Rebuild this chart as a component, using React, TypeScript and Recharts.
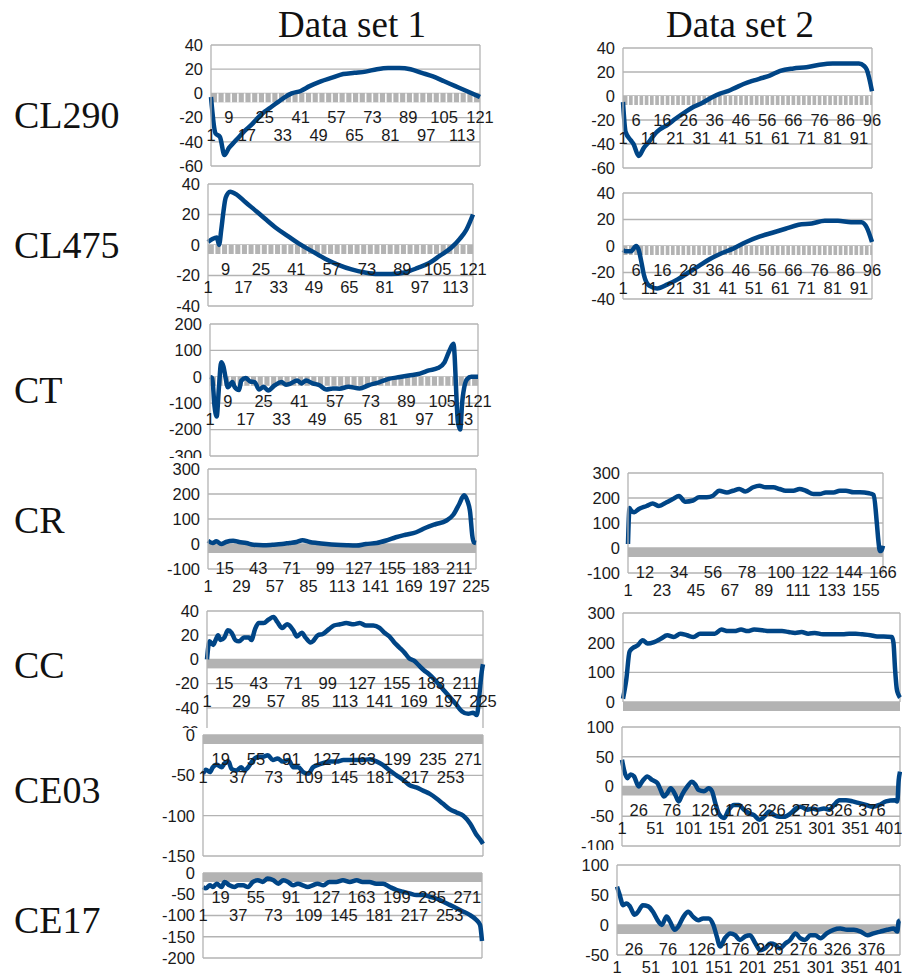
import React from "react";
import { LineChart, Line, XAxis, YAxis, CartesianGrid, ReferenceLine } from "recharts";

const BLUE = "#004586";
const GRID = "#b3b3b3";
const SANS = "'Liberation Sans', Arial, sans-serif";
const SERIF = "'Liberation Serif', 'Times New Roman', serif";

// category tick labels
const t121 = [1, 9, 17, 25, 33, 41, 49, 57, 65, 73, 81, 89, 97, 105, 113, 121];
const t96 = [1, 6, 11, 16, 21, 26, 31, 36, 41, 46, 51, 56, 61, 66, 71, 76, 81, 86, 91, 96];
const t225 = [1, 15, 29, 43, 57, 71, 85, 99, 113, 127, 141, 155, 169, 183, 197, 211, 225];
const t166 = [1, 12, 23, 34, 45, 56, 67, 78, 89, 100, 111, 122, 133, 144, 155, 166];
const t286 = [1, 19, 37, 55, 73, 91, 109, 127, 145, 163, 181, 199, 217, 235, 253, 271];
const t418 = [1, 26, 51, 76, 101, 126, 151, 176, 201, 226, 251, 276, 301, 326, 351, 376, 401];

// value ticks
const y60_40 = [-60, -40, -20, 0, 20, 40];
const y40_40 = [-40, -20, 0, 20, 40];
const y300_200 = [-300, -200, -100, 0, 100, 200];
const y100_300 = [-100, 0, 100, 200, 300];
const y0_300 = [0, 100, 200, 300];
const y150_0 = [-150, -100, -50, 0];
const y100_100 = [-100, -50, 0, 50, 100];
const y200_0 = [-200, -150, -100, -50, 0];
const y50_100 = [-50, 0, 50, 100];

// series: [index, value]
const cl290a = [[1,-3],[3,-33],[5,-36],[7,-51],[9,-45],[11,-41],[13,-37],[16,-31],[19,-26],[22,-20],[25,-15],[28,-11],[31,-7],[34,-3],[37,0],[41,2],[45,6],[50,10],[55,13],[60,16],[65,17],[70,18],[75,20],[80,21],[85,21],[90,20],[95,17],[100,14],[105,10],[110,6],[115,2],[121,-3]];
const cl290b = [[1,-5],[2,-30],[4,-37],[5,-40],[7,-50],[9,-43],[11,-38],[13,-32],[15,-28],[18,-24],[21,-19],[25,-13],[28,-9],[31,-6],[35,-1],[38,2],[41,4],[44,7],[47,10],[51,13],[54,15],[57,17],[61,21],[66,23],[71,24],[76,26],[81,27],[86,27],[91,27],[93,25],[94,22],[96,4]];
const cl475a = [[1,2],[3,4],[5,5],[6,0],[7,10],[8,22],[9,31],[11,35],[14,33],[18,28],[23,22],[27,17],[32,11],[37,6],[42,1],[48,-4],[54,-9],[60,-13],[66,-16],[72,-18],[78,-19],[84,-19],[90,-18],[96,-15],[101,-12],[106,-7],[111,-2],[115,4],[118,10],[121,20]];
const cl475b = [[1,-3],[2,-4],[4,-4],[6,0],[7,-3],[8,-12],[9,-22],[11,-30],[14,-32],[18,-29],[22,-25],[26,-20],[30,-15],[34,-10],[38,-6],[43,-2],[48,3],[53,7],[58,10],[63,13],[68,16],[73,17],[78,19],[83,19],[88,18],[92,18],[94,14],[96,3]];
const cta = [[1,0],[2,-5],[3,-110],[4,-150],[5,-40],[6,55],[7,40],[8,-5],[9,-40],[11,-20],[12,-38],[14,-50],[15,-15],[17,-5],[19,-18],[21,-20],[23,-48],[25,-38],[27,-52],[30,-32],[33,-20],[35,-30],[37,-26],[40,-14],[42,-25],[44,-14],[47,-25],[50,-32],[53,-48],[56,-44],[59,-45],[63,-38],[68,-44],[72,-32],[77,-20],[81,-8],[86,-1],[90,5],[95,12],[99,24],[103,33],[106,55],[108,95],[110,125],[112,-170],[113,-200],[114,-90],[116,-10],[118,0],[121,0]];
const cra = [[1,13],[5,4],[8,11],[12,0],[16,8],[22,13],[27,8],[33,4],[39,-3],[47,-5],[55,-3],[63,0],[69,4],[75,8],[80,15],[86,8],[92,4],[100,0],[108,-3],[117,-5],[125,-6],[133,0],[142,4],[150,14],[158,27],[166,37],[175,47],[183,65],[191,79],[200,93],[206,117],[211,160],[215,195],[218,170],[220,130],[222,30],[223,8],[225,4]];
const crb = [[1,16],[2,160],[3,150],[5,143],[8,156],[13,168],[17,178],[21,168],[26,183],[30,196],[34,208],[38,185],[43,190],[47,203],[52,203],[56,209],[60,229],[65,222],[69,229],[73,236],[77,226],[82,243],[86,249],[90,243],[95,243],[99,236],[103,229],[108,229],[112,236],[116,229],[121,216],[125,216],[129,222],[134,222],[138,229],[142,229],[147,223],[151,223],[157,219],[160,212],[162,100],[163,30],[164,-12],[165,-10],[166,9]];
const cca = [[1,0],[3,15],[6,12],[8,16],[10,20],[12,16],[15,18],[18,24],[21,22],[24,16],[27,15],[31,18],[35,18],[37,16],[40,25],[43,30],[47,30],[51,33],[55,35],[58,31],[62,26],[66,29],[68,28],[71,24],[74,19],[78,22],[81,18],[85,14],[87,15],[91,20],[95,21],[100,25],[104,28],[109,29],[114,30],[120,29],[125,30],[130,28],[136,28],[141,26],[145,22],[149,19],[153,14],[157,10],[161,6],[165,1],[169,-1],[173,-5],[177,-9],[181,-12],[186,-17],[192,-24],[198,-31],[203,-37],[208,-43],[213,-45],[217,-44],[220,-46],[222,-30],[224,-10],[225,-4]];
const ccb = [[1,11],[3,75],[5,170],[7,182],[10,191],[13,208],[16,197],[20,202],[24,213],[28,225],[32,219],[36,230],[40,225],[44,219],[48,230],[52,230],[57,230],[61,244],[65,239],[69,239],[73,244],[77,239],[81,244],[86,242],[90,239],[94,239],[98,239],[102,236],[106,233],[110,236],[114,230],[118,233],[123,228],[127,228],[131,228],[135,228],[139,230],[143,230],[147,228],[152,225],[156,221],[160,221],[165,219],[166,200],[167,110],[168,45],[169,25],[170,15]];
const ce03a = [[1,-48],[4,-43],[8,-46],[11,-40],[15,-37],[20,-40],[23,-35],[27,-33],[30,-42],[35,-44],[40,-40],[43,-44],[47,-40],[52,-31],[57,-27],[62,-27],[67,-25],[72,-31],[77,-29],[82,-33],[88,-31],[93,-40],[98,-40],[103,-46],[108,-48],[113,-40],[118,-37],[123,-35],[130,-33],[137,-33],[144,-31],[150,-31],[157,-31],[164,-31],[171,-30],[178,-33],[184,-37],[191,-44],[198,-50],[205,-56],[211,-62],[218,-65],[225,-69],[232,-73],[239,-79],[245,-85],[252,-92],[259,-96],[266,-100],[273,-110],[279,-123],[284,-131],[286,-135]];
const ce03b = [[1,45],[4,28],[9,14],[14,20],[19,17],[26,0],[31,8],[39,17],[46,11],[54,6],[59,-6],[64,-17],[69,-11],[74,-3],[81,-14],[86,-25],[91,-14],[99,0],[106,8],[111,3],[116,-6],[124,-8],[131,-3],[136,-8],[141,-28],[146,-45],[154,-53],[161,-39],[169,-31],[176,-31],[184,-39],[192,-45],[199,-48],[207,-56],[214,-51],[222,-42],[229,-48],[237,-51],[244,-51],[254,-45],[262,-37],[269,-34],[279,-39],[287,-37],[294,-39],[304,-37],[312,-39],[319,-31],[327,-23],[337,-23],[347,-25],[357,-28],[367,-31],[377,-34],[387,-31],[397,-25],[410,-23],[414,-25],[416,10],[418,25]];
const ce17a = [[1,-33],[4,-36],[8,-29],[11,-33],[15,-25],[20,-33],[23,-21],[28,-29],[33,-33],[37,-29],[42,-29],[47,-33],[52,-21],[57,-17],[62,-21],[67,-13],[73,-17],[78,-25],[83,-17],[88,-21],[93,-29],[98,-25],[103,-29],[108,-33],[113,-29],[118,-25],[124,-29],[130,-21],[137,-21],[144,-17],[151,-21],[158,-17],[164,-21],[171,-21],[178,-25],[185,-25],[192,-33],[199,-40],[205,-44],[212,-48],[219,-52],[226,-52],[233,-56],[239,-60],[246,-67],[253,-75],[260,-83],[267,-91],[273,-98],[280,-110],[284,-122],[286,-160]];
const ce17b = [[1,64],[5,50],[10,33],[15,36],[20,31],[27,17],[32,22],[39,33],[47,31],[54,22],[62,6],[67,0],[74,14],[79,6],[86,-8],[91,-3],[99,14],[106,22],[113,14],[121,8],[128,11],[136,11],[143,0],[148,-19],[153,-36],[160,-22],[168,-14],[175,-17],[182,-25],[190,-19],[197,-17],[205,-31],[212,-42],[219,-39],[227,-31],[234,-33],[241,-39],[249,-31],[256,-25],[264,-14],[271,-22],[278,-25],[286,-17],[293,-17],[301,-22],[310,-14],[320,-8],[330,-6],[340,-8],[350,-8],[360,-11],[370,-17],[379,-14],[389,-11],[399,-8],[409,-6],[414,-11],[416,6],[418,8]];

const rowLabels = [
  { name: "CL290", y: 115 },
  { name: "CL475", y: 245 },
  { name: "CT", y: 390 },
  { name: "CR", y: 520 },
  { name: "CC", y: 665 },
  { name: "CE03", y: 790 },
  { name: "CE17", y: 920 },
];

type Spec = {
  data: number[][];
  n: number;
  xTicks: number[] | null;
  yTicks: number[];
  left: number;
  right: number;
  top: number;
  bottom: number;
  gap?: number;
  cut?: number;
};

const panels: Spec[] = [
  { data: cl290a, n: 121, xTicks: t121, yTicks: y60_40, left: 211, right: 480, top: 45, bottom: 166, gap: 3 },
  { data: cl290b, n: 96, xTicks: t96, yTicks: y60_40, left: 623, right: 872, top: 48, bottom: 168, gap: 2 },
  { data: cl475a, n: 121, xTicks: t121, yTicks: y40_40, left: 208, right: 473, top: 184, bottom: 306, gap: 3 },
  { data: cl475b, n: 96, xTicks: t96, yTicks: y40_40, left: 623, right: 872, top: 193, bottom: 299, gap: 2 },
  { data: cta, n: 121, xTicks: t121, yTicks: y300_200, left: 210, right: 478, top: 324, bottom: 456, gap: 3, cut: 458 },
  { data: cra, n: 225, xTicks: t225, yTicks: y100_300, left: 208, right: 476, top: 469, bottom: 569 },
  { data: crb, n: 166, xTicks: t166, yTicks: y100_300, left: 628, right: 883, top: 473, bottom: 573 },
  { data: cca, n: 225, xTicks: t225, yTicks: y60_40, left: 207, right: 483, top: 611, bottom: 732, cut: 728 },
  { data: ccb, n: 170, xTicks: null, yTicks: y0_300, left: 623, right: 900, top: 613, bottom: 702 },
  { data: ce03a, n: 286, xTicks: t286, yTicks: y150_0, left: 203, right: 483, top: 735, bottom: 856 },
  { data: ce03b, n: 418, xTicks: t418, yTicks: y100_100, left: 622, right: 900, top: 727, bottom: 846, cut: 850 },
  { data: ce17a, n: 286, xTicks: t286, yTicks: y200_0, left: 203, right: 482, top: 873, bottom: 958 },
  { data: ce17b, n: 418, xTicks: t418, yTicks: y50_100, left: 617, right: 900, top: 865, bottom: 955 },
];

const MT = 10;
const MB = 60;
const MR = 24;
const YW = 56;
const BAND = 9;
const FS = 16.5;

function ZeroBand(props: any) {
  const { x1, x2, y1, n, gap } = props;
  if (x1 == null || y1 == null) return null;
  const marks = [];
  if (gap > 0) {
    for (let c = 1 + gap; c < n; c += gap) {
      const x = x1 + ((c - 1) / (n - 1)) * (x2 - x1);
      marks.push(<line key={c} x1={x} x2={x} y1={y1} y2={y1 + BAND} stroke="#fff" strokeWidth={1.6} />);
    }
  }
  return (
    <g>
      <rect x={x1} y={y1} width={x2 - x1} height={BAND} fill={GRID} />
      {marks}
    </g>
  );
}

function XTick(props: any) {
  const { x, payload, index, zy } = props;
  const upper = index % 2 === 1;
  return (
    <text x={x} y={zy + (upper ? 24 : 42)} textAnchor="middle" dy="0.355em" fontSize={FS} fill="#1a1a1a" fontFamily={SANS}>
      {payload.value}
    </text>
  );
}

function Panel({ s }: { s: Spec }) {
  const plotW = s.right - s.left;
  const plotH = s.bottom - s.top;
  const w = YW + plotW + MR;
  const h = MT + plotH + MB;
  const yMin = s.yTicks[0];
  const yMax = s.yTicks[s.yTicks.length - 1];
  const zy = MT + (yMax / (yMax - yMin)) * plotH;
  const top = s.top - MT;
  const visH = s.cut ? Math.min(h, s.cut - top) : h;
  const rows = s.data.map(([i, v]) => ({ i, v }));
  return (
    <div style={{ position: "absolute", left: s.left - YW, top, width: w, height: visH, overflow: "hidden" }}>
      <LineChart width={w} height={h} data={rows} margin={{ top: MT, right: MR, bottom: 0, left: 0 }}>
        <CartesianGrid vertical={false} stroke={GRID} strokeWidth={1.3} />
        <XAxis
          dataKey="i"
          type="number"
          domain={[1, s.n]}
          ticks={s.xTicks ?? []}
          interval={0}
          height={MB}
          axisLine={false}
          tickLine={false}
          tick={s.xTicks ? (p: any) => <XTick {...p} zy={zy} /> : false}
        />
        <YAxis
          type="number"
          domain={[yMin, yMax]}
          ticks={s.yTicks}
          interval={0}
          width={YW}
          axisLine={{ stroke: GRID, strokeWidth: 1.3 }}
          tickLine={false}
          tick={{ fontSize: FS, fill: "#1a1a1a", fontFamily: SANS }}
        />
        <ReferenceLine x={s.n} stroke={GRID} strokeWidth={1.3} />
        <ReferenceLine y={0} shape={(p: any) => <ZeroBand {...p} n={s.n} gap={s.gap ?? 0} />} />
        <Line type="monotone" dataKey="v" stroke={BLUE} strokeWidth={4.5} dot={false} isAnimationActive={false} />
      </LineChart>
    </div>
  );
}

export default function App() {
  return (
    <div style={{ position: "absolute", left: 0, top: 0, width: 902, height: 973, overflow: "hidden", background: "#fff" }}>
      {panels.map((s, k) => (
        <Panel key={k} s={s} />
      ))}
      <div style={{ position: "absolute", left: 222, top: 4, width: 260, textAlign: "center", fontFamily: SERIF, fontSize: 37, lineHeight: "42px", color: "#111" }}>
        Data set 1
      </div>
      <div style={{ position: "absolute", left: 610, top: 4, width: 260, textAlign: "center", fontFamily: SERIF, fontSize: 37, lineHeight: "42px", color: "#111" }}>
        Data set 2
      </div>
      {rowLabels.map((r) => (
        <div key={r.name} style={{ position: "absolute", left: 14, top: r.y - 22, fontFamily: SERIF, fontSize: 38, lineHeight: "44px", color: "#111" }}>
          {r.name}
        </div>
      ))}
    </div>
  );
}
